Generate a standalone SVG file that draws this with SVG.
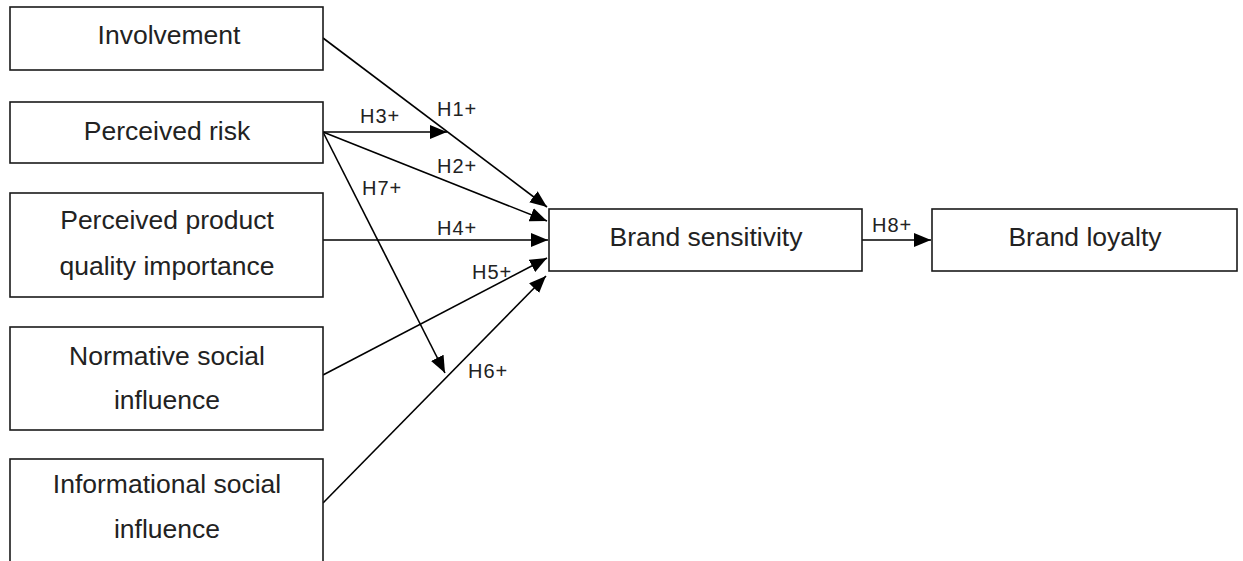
<svg xmlns="http://www.w3.org/2000/svg" width="1243" height="561" viewBox="0 0 1243 561">
  <style>
    .box { fill: #ffffff; stroke: #1a1a1a; stroke-width: 1.6; }
    .lbl { font-family: "Liberation Sans", Arial, sans-serif; font-size: 26.5px; fill: #222; text-anchor: middle; }
    .hyp { font-family: "Liberation Sans", Arial, sans-serif; font-size: 20px; fill: #222; letter-spacing: 1px; }
    .edge { stroke: #000; stroke-width: 1.6; fill: none; marker-end: url(#arrow); }
  </style>
  <defs>
    <marker id="arrow" markerUnits="userSpaceOnUse" markerWidth="17" markerHeight="14" refX="17" refY="7" orient="auto">
      <path d="M0,0 L17,7 L0,14 z" fill="#000"/>
    </marker>
  </defs>
  <rect width="1243" height="561" fill="#ffffff"/>

  <g id="connectors">
    <line class="edge" x1="323" y1="38" x2="547" y2="207"/>
    <line class="edge" x1="323" y1="132" x2="447" y2="132"/>
    <line class="edge" x1="323" y1="132" x2="547" y2="221"/>
    <line class="edge" x1="323" y1="132" x2="445" y2="373"/>
    <line class="edge" x1="323" y1="240" x2="548" y2="240"/>
    <line class="edge" x1="323" y1="375" x2="547" y2="258"/>
    <line class="edge" x1="323" y1="503" x2="546" y2="276"/>
    <line class="edge" x1="862" y1="240" x2="931" y2="240"/>
    <text class="hyp" x="437" y="116">H1+</text>
    <text class="hyp" x="360" y="123">H3+</text>
    <text class="hyp" x="437" y="173">H2+</text>
    <text class="hyp" x="362" y="195">H7+</text>
    <text class="hyp" x="437" y="235">H4+</text>
    <text class="hyp" x="472" y="279">H5+</text>
    <text class="hyp" x="468" y="378">H6+</text>
    <text class="hyp" x="872" y="232">H8+</text>
  </g>

  <g id="involvement">
    <rect class="box" x="10" y="7" width="313" height="63"/>
    <text class="lbl" x="169" y="44">Involvement</text>
  </g>
  <g id="perceived-risk">
    <rect class="box" x="10" y="102" width="313" height="61"/>
    <text class="lbl" x="167" y="140">Perceived risk</text>
  </g>
  <g id="quality-importance">
    <rect class="box" x="10" y="193" width="313" height="104"/>
    <text class="lbl" x="167" y="229">Perceived product</text>
    <text class="lbl" x="167" y="275">quality importance</text>
  </g>
  <g id="normative-influence">
    <rect class="box" x="10" y="327" width="313" height="103"/>
    <text class="lbl" x="167" y="365">Normative social</text>
    <text class="lbl" x="167" y="409">influence</text>
  </g>
  <g id="informational-influence">
    <rect class="box" x="10" y="459" width="313" height="120"/>
    <text class="lbl" x="167" y="493">Informational social</text>
    <text class="lbl" x="167" y="538">influence</text>
  </g>
  <g id="brand-sensitivity">
    <rect class="box" x="549" y="209" width="313" height="62"/>
    <text class="lbl" x="706" y="246">Brand sensitivity</text>
  </g>
  <g id="brand-loyalty">
    <rect class="box" x="932" y="209" width="305" height="62"/>
    <text class="lbl" x="1085" y="246">Brand loyalty</text>
  </g>
</svg>
